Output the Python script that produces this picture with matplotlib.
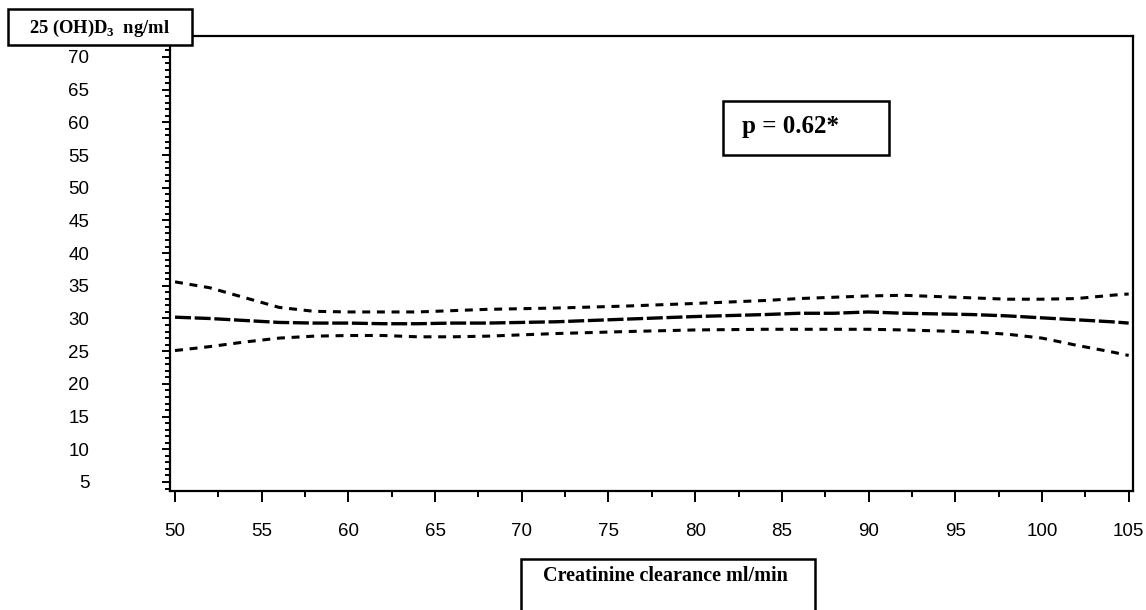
import numpy as np
import matplotlib
matplotlib.use('Agg')
import matplotlib.pyplot as plt
from matplotlib.ticker import MultipleLocator

plt.rcParams['mathtext.fontset'] = 'custom'
plt.rcParams['mathtext.bf'] = 'Liberation Serif:bold'
plt.rcParams['mathtext.rm'] = 'Liberation Serif'

# Values (creatinine clearance vs 25(OH)D3)
clearance = [50, 52, 54, 56, 58, 60, 62, 64, 66, 68, 70, 72, 76, 80, 84,
             86, 88, 90, 92, 94, 96, 98, 100, 102, 104, 105]
upper_ci = [35.6, 34.7, 33.2, 31.7, 31.1, 31.0, 31.0, 31.0, 31.2, 31.4, 31.5, 31.6,
            31.9, 32.3, 32.75, 33.05, 33.25, 33.45, 33.55, 33.35, 33.15, 32.95, 32.95,
            33.05, 33.55, 33.75]
fitted = [30.2, 30.0, 29.7, 29.4, 29.3, 29.3, 29.2, 29.2, 29.3, 29.3, 29.4, 29.5,
          29.9, 30.3, 30.6, 30.8, 30.8, 31.0, 30.8, 30.7, 30.6, 30.4, 30.1, 29.8,
          29.5, 29.3]
lower_ci = [25.1, 25.7, 26.4, 27.0, 27.3, 27.4, 27.4, 27.2, 27.2, 27.3, 27.5, 27.7,
            28.0, 28.25, 28.35, 28.35, 28.35, 28.35, 28.25, 28.1, 27.95, 27.6, 27.0,
            25.9, 24.9, 24.35]

x_ticks = list(range(50, 106, 5))
y_ticks = list(range(5, 71, 5))

fig = plt.figure(figsize=(11.46, 6.10), dpi=100)
ax = fig.add_axes([170 / 1146, 1 - 491 / 610, (1133 - 170) / 1146, (491 - 36) / 610])

# confidence band lines: short dashes, fitted line: long dashes
ax.plot(clearance, upper_ci, color='black', lw=2.2, linestyle=(0, (2.6, 2.2)))
ax.plot(clearance, fitted, color='black', lw=2.4, linestyle=(0, (4.8, 1.1)))
ax.plot(clearance, lower_ci, color='black', lw=2.2, linestyle=(0, (2.6, 2.2)))

ax.set_xlim(49.71, 105.25)
ax.set_ylim(3.62, 73.2)

ax.set_xticks(x_ticks)
ax.set_yticks(y_ticks)
ax.xaxis.set_minor_locator(MultipleLocator(2.5))
ax.yaxis.set_minor_locator(MultipleLocator(1))

ax.tick_params(axis='x', which='major', direction='out', length=8, width=1.4,
               pad=15, labelsize=13.5)
ax.tick_params(axis='x', which='minor', direction='out', length=4.5, width=1.4)
ax.tick_params(axis='y', which='major', direction='out', length=6, width=1.4,
               pad=52, labelsize=13.5)
ax.tick_params(axis='y', which='minor', direction='out', length=3.5, width=1.4)
for lab in ax.get_xticklabels() + ax.get_yticklabels():
    lab.set_fontfamily('Liberation Sans')

for side in ('left', 'bottom', 'top', 'right'):
    ax.spines[side].set_linewidth(1.6)

# y axis title box
fig.patches.append(plt.Rectangle((8 / 1146, 1 - 45 / 610), (192 - 8) / 1146, 36 / 610,
                                 transform=fig.transFigure, facecolor='white',
                                 edgecolor='black', linewidth=1.8, zorder=5))
fig.text(99 / 1146, 1 - 28 / 610, r'25 (OH)D$_\mathbf{3}$  ng/ml', ha='center', va='center',
         fontsize=13.3, fontweight='bold', fontfamily='Liberation Serif', zorder=6)

# x axis title box
fig.patches.append(plt.Rectangle((521 / 1146, -0.05), (815 - 521) / 1146, (610 - 559) / 610 + 0.05,
                                 transform=fig.transFigure, facecolor='white',
                                 edgecolor='black', linewidth=1.8, zorder=5))
fig.text(665 / 1146, 1 - 576 / 610, 'Creatinine clearance ml/min', ha='center', va='center',
         fontsize=14.5, fontweight='bold', fontfamily='Liberation Serif', zorder=6)

# p value box
fig.patches.append(plt.Rectangle((723 / 1146, 1 - 155 / 610), (889 - 723) / 1146, 54 / 610,
                                 transform=fig.transFigure, facecolor='white',
                                 edgecolor='black', linewidth=1.8, zorder=5))
fig.text(791 / 1146, 1 - 127 / 610, 'p = 0.62*', ha='center', va='center',
         fontsize=18, fontweight='bold', fontfamily='Liberation Serif', zorder=6)

fig.savefig('out.png', dpi=100)
